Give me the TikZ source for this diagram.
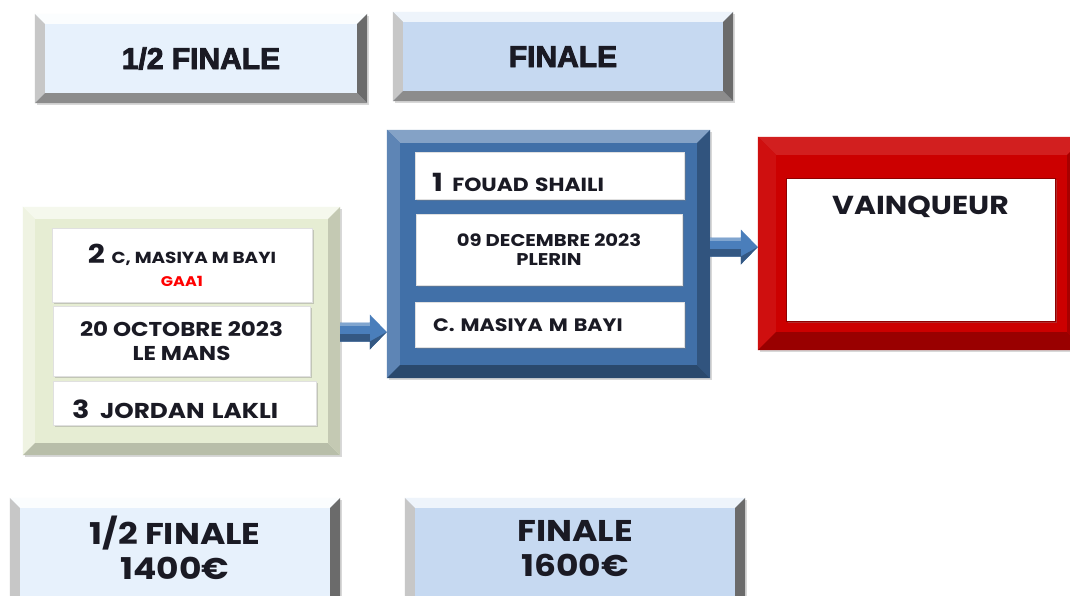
\documentclass[tikz,border=0pt]{standalone}
\usepackage{fontspec}
\setmainfont{Liberation Sans}
\newfontfamily\hdrfont{Liberation Sans}[BoldFeatures={FakeBold=3}]
\newfontfamily\pop{Poppins}[FakeStretch=1.15]
\usetikzlibrary{calc,shadows}
\definecolor{hlb}{HTML}{E7F1FC}
\definecolor{hdb}{HTML}{C6D9F1}
\definecolor{grn}{HTML}{E6EDD3}
\definecolor{blu}{HTML}{4170A8}
\definecolor{rd}{HTML}{CC0000}
\definecolor{arr}{HTML}{4A7EBB}
\definecolor{ink}{HTML}{1A1A24}
\newcommand\bevelon[6]{%
 \fill[#3] (#1.north west) -- (#1.north east) -- ([shift={(-#2,-#2)}]#1.north east) -- ([shift={(#2,-#2)}]#1.north west) -- cycle;
 \fill[#4] (#1.north west) -- ([shift={(#2,-#2)}]#1.north west) -- ([shift={(#2,#2)}]#1.south west) -- (#1.south west) -- cycle;
 \fill[#5] (#1.south west) -- ([shift={(#2,#2)}]#1.south west) -- ([shift={(-#2,#2)}]#1.south east) -- (#1.south east) -- cycle;
 \fill[#6] (#1.south east) -- ([shift={(-#2,#2)}]#1.south east) -- ([shift={(-#2,-#2)}]#1.north east) -- (#1.north east) -- cycle;
}
\newcommand\blockarrow[2]{%
 \fill[arr] ($(#1)+(0,9.5pt)$) -- ($(#2)+(-17pt,9.5pt)$) -- ($(#2)+(-17pt,17.5pt)$) -- (#2) -- ($(#2)+(-17pt,-17.5pt)$) -- ($(#2)+(-17pt,-9.5pt)$) -- ($(#1)+(0,-9.5pt)$) -- cycle;
 \fill[arr!70!black] ($(#1)+(0,-2pt)$) -- ($(#2)+(-17pt,-2pt)$) -- ($(#2)+(-17pt,-17.5pt)$) -- (#2) -- ($(#2)+(-17pt,-9.5pt)$) -- ($(#1)+(0,-9.5pt)$) -- cycle;
 \fill[arr!70!white] ($(#1)+(0,9.5pt)$) -- ($(#2)+(-17pt,9.5pt)$) -- ($(#2)+(-17pt,6pt)$) -- ($(#1)+(0,6pt)$) -- cycle;
}
\tikzset{
 bev/.style={rectangle, inner sep=0pt, drop shadow={shadow xshift=2pt,shadow yshift=-2pt,opacity=0.3}},
 card/.style={rectangle, fill=white, inner sep=0pt, draw=black!12, line width=0.4pt, drop shadow={shadow xshift=1.5pt,shadow yshift=-1.5pt,opacity=0.35}},
 hdr/.style={font=\hdrfont\bfseries\fontsize{30}{30}\selectfont, text=ink, text height=21pt, text depth=0pt},
 prize/.style={font=\pop\bfseries\fontsize{30}{35}\selectfont, text=ink, align=center},
}
\begin{document}
\begin{tikzpicture}[x=1pt,y=-1pt]
\useasboundingbox[fill=white] (0,0) rectangle (1070,595);
% top headers
\node[bev, fill=hlb, minimum width=332pt, minimum height=89pt, hdr] (h1) at (201,58.5) {1/2 FINALE};
\bevelon{h1}{10pt}{white!85!hlb}{black!22}{black!45}{black!58}
\node[bev, fill=hdb, minimum width=340pt, minimum height=89pt, hdr] (h2) at (563,56.5) {FINALE};
\bevelon{h2}{10pt}{white!70!hdb}{black!22}{black!45}{black!58}
% semi-final group
\node[bev, fill=grn, minimum width=317pt, minimum height=248pt] (g) at (181.5,331) {};
\bevelon{g}{12pt}{white!60!grn}{white!35!grn}{grn!80!black}{grn!85!black}
\node[card, minimum width=260pt, minimum height=74pt, align=center, font=\pop\bfseries\fontsize{16}{23}\selectfont, text=ink] (ga) at (182,265)
 {{\fontsize{26}{26}\selectfont 2}\, C, MASIYA M BAYI\\{\color{red}\fontsize{14}{14}\selectfont GAA1}};
\node[card, minimum width=257pt, minimum height=70pt, align=center, font=\pop\bfseries\fontsize{20}{24}\selectfont, text=ink] (gb) at (181.5,341)
 {20 OCTOBRE 2023\\LE MANS};
\node[card, inner xsep=19pt, text width=225pt, minimum height=44pt, align=left, font=\pop\bfseries\fontsize{21.5}{21.5}\selectfont, text=ink, text height=30pt, text depth=0pt] (gc) at (184.5,403)
 {{\fontsize{25}{25}\selectfont 3}\, JORDAN LAKLI};
% final group
\node[bev, fill=blu, minimum width=323pt, minimum height=248pt] (b) at (548.5,254) {};
\bevelon{b}{13pt}{blu!65!white}{blu!85!white}{blu!65!black}{blu!75!black}
\node[card, inner xsep=17pt, text width=235pt, minimum height=47pt, align=left, font=\pop\bfseries\fontsize{19}{19}\selectfont, text=ink, text height=31pt, text depth=0pt] (ba) at (549.5,175.5)
 {{\fontsize{25}{25}\selectfont 1}\, FOUAD SHAILI};
\node[card, minimum width=266pt, minimum height=71pt, align=center, font=\pop\bfseries\fontsize{17}{19}\selectfont, text=ink] (bb) at (549,249.5)
 {09 DECEMBRE 2023\\PLERIN};
\node[card, inner xsep=18pt, text width=233pt, minimum height=45pt, align=left, font=\pop\bfseries\fontsize{18}{18}\selectfont, text=ink, text height=13pt, text depth=0pt] (bc) at (549.5,324.5)
 {C. MASIYA M BAYI};
% winner
\node[bev, fill=rd, minimum width=327pt, minimum height=213pt] (r) at (921.5,243.5) {};
\bevelon{r}{18pt}{rd!88!white}{rd!94!white}{rd!75!black}{rd!82!black}
\node[card, draw=rd!70!black, minimum width=269pt, minimum height=143pt, align=center, font=\pop\bfseries\fontsize{26}{26}\selectfont, text=ink, text height=20pt, text depth=91pt] (rw) at (920.5,249.5)
 {VAINQUEUR};
% arrows
\coordinate (a1e) at ([yshift=-1pt]b.west |- g.east);
\coordinate (a1s) at ([yshift=-1pt]g.east);
\blockarrow{a1s}{a1e}
\coordinate (a2s) at ([yshift=7pt]b.east);
\coordinate (a2e) at (r.west |- a2s);
\blockarrow{a2s}{a2e}
% prizes (boxes run past the bottom edge)
\node[bev, fill=hlb, minimum width=330pt, minimum height=117pt, prize] (p1) at (175,556.5) {1/2 FINALE\\1400€\rule[-17pt]{0pt}{17pt}};
\bevelon{p1}{10pt}{white!85!hlb}{black!22}{black!45}{black!58}
\node[bev, fill=hdb, minimum width=340pt, minimum height=117pt, prize] (p2) at (575,556.5) {FINALE\\1600€\rule[-17pt]{0pt}{17pt}};
\bevelon{p2}{10pt}{white!70!hdb}{black!22}{black!45}{black!58}
\end{tikzpicture}
\end{document}
